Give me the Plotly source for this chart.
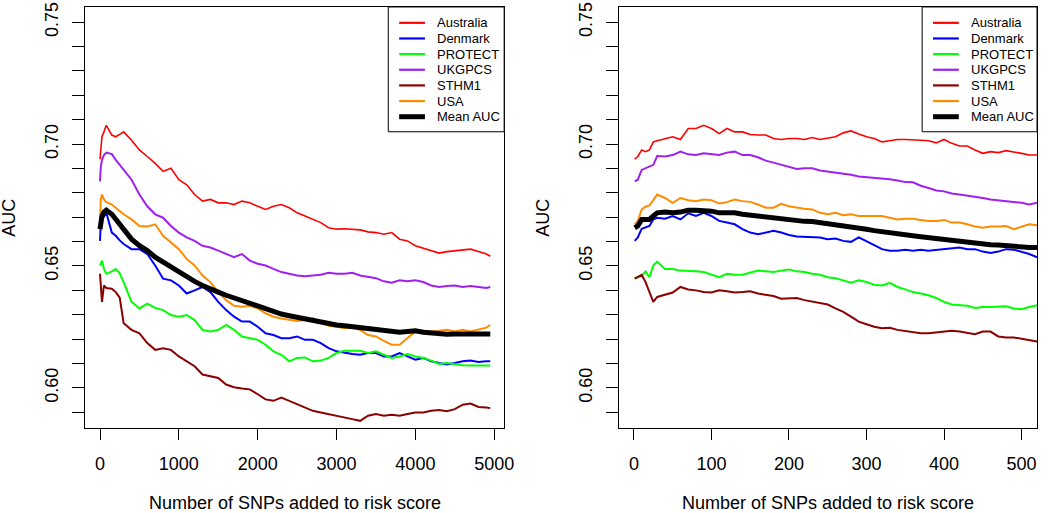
import plotly.graph_objects as go

LABELS = ["Australia", "Denmark", "PROTECT", "UKGPCS", "STHM1", "USA", "Mean AUC"]
COLORS = ["#FF0000", "#0000FF", "#00FF00", "#A020F0", "#8B0000", "#FF8C00", "#000000"]
WIDTHS = [1.6, 2.0, 2.0, 2.0, 2.0, 2.0, 5.0]

# ---------------- left panel (0 - 5000 SNPs) ----------------
L_X = [0, 10, 25, 50, 80, 150, 200, 250] + list(range(300, 5000, 100)) + [4950]

L_AUSTRALIA = [0.6938, 0.6989, 0.7030, 0.7050, 0.7077, 0.7037, 0.7030, 0.7040,
               0.7050, 0.7016, 0.6976, 0.6949, 0.6921, 0.6888, 0.6901, 0.6854, 0.6833, 0.6793,
               0.6766, 0.6773, 0.6759, 0.6759, 0.6752, 0.6766, 0.6759, 0.6745, 0.6732, 0.6745,
               0.6752, 0.6739, 0.6718, 0.6705, 0.6691, 0.6678, 0.6657, 0.6651, 0.6653, 0.6651,
               0.6648, 0.6640, 0.6637, 0.6630, 0.6637, 0.6610, 0.6603, 0.6583, 0.6572, 0.6563,
               0.6553, 0.6559, 0.6563, 0.6567, 0.6569, 0.6559, 0.6549,
               0.6540]
L_DENMARK = [0.6603, 0.6678, 0.6691, 0.6705, 0.6718, 0.6637, 0.6624, 0.6605,
             0.6590, 0.6569, 0.6569, 0.6549, 0.6502, 0.6448, 0.6441, 0.6420, 0.6387, 0.6400,
             0.6414, 0.6393, 0.6353, 0.6319, 0.6292, 0.6272, 0.6272, 0.6251, 0.6224, 0.6217,
             0.6204, 0.6204, 0.6211, 0.6197, 0.6197, 0.6184, 0.6163, 0.6150, 0.6143, 0.6139,
             0.6136, 0.6143, 0.6143, 0.6129, 0.6129, 0.6143, 0.6129, 0.6116, 0.6123, 0.6109,
             0.6102, 0.6096, 0.6102, 0.6109, 0.6112, 0.6106, 0.6109,
             0.6109]
L_PROTECT = [0.6502, 0.6515, 0.6522, 0.6488, 0.6468, 0.6478, 0.6488, 0.6470,
             0.6434, 0.6353, 0.6326, 0.6346, 0.6328, 0.6319, 0.6299, 0.6292, 0.6299, 0.6278,
             0.6238, 0.6231, 0.6238, 0.6258, 0.6238, 0.6211, 0.6204, 0.6197, 0.6177, 0.6150,
             0.6136, 0.6109, 0.6123, 0.6125, 0.6109, 0.6112, 0.6123, 0.6143, 0.6152, 0.6152,
             0.6152, 0.6143, 0.6150, 0.6136, 0.6123, 0.6129, 0.6139, 0.6129, 0.6123, 0.6112,
             0.6098, 0.6102, 0.6096, 0.6093, 0.6092, 0.6093, 0.6092,
             0.6092]
L_UKGPCS = [0.6847, 0.6908, 0.6935, 0.6955, 0.6965, 0.6959, 0.6935, 0.6915,
            0.6894, 0.6854, 0.6793, 0.6745, 0.6712, 0.6698, 0.6664, 0.6637, 0.6617, 0.6603,
            0.6583, 0.6576, 0.6563, 0.6549, 0.6536, 0.6549, 0.6522, 0.6509, 0.6502, 0.6488,
            0.6475, 0.6468, 0.6461, 0.6458, 0.6461, 0.6464, 0.6472, 0.6468, 0.6468, 0.6472,
            0.6461, 0.6454, 0.6450, 0.6437, 0.6431, 0.6441, 0.6437, 0.6441, 0.6434, 0.6420,
            0.6414, 0.6418, 0.6420, 0.6414, 0.6418, 0.6414, 0.6410,
            0.6414]
L_STHM1 = [0.6468, 0.6434, 0.6353, 0.6420, 0.6410, 0.6407, 0.6393, 0.6370,
           0.6265, 0.6238, 0.6224, 0.6184, 0.6156, 0.6163, 0.6156, 0.6129, 0.6109, 0.6089,
           0.6055, 0.6048, 0.6041, 0.6014, 0.6003, 0.5998, 0.5994, 0.5974, 0.5953, 0.5947,
           0.5960, 0.5947, 0.5933, 0.5922, 0.5906, 0.5899, 0.5893, 0.5886, 0.5879, 0.5872,
           0.5865, 0.5886, 0.5893, 0.5886, 0.5890, 0.5886, 0.5893, 0.5899, 0.5899, 0.5906,
           0.5909, 0.5904, 0.5913, 0.5931, 0.5936, 0.5922, 0.5920,
           0.5917]
L_USA = [0.6671, 0.6773, 0.6793, 0.6773, 0.6762, 0.6752, 0.6739, 0.6725,
         0.6712, 0.6691, 0.6664, 0.6662, 0.6671, 0.6624, 0.6597, 0.6569, 0.6529, 0.6502,
         0.6461, 0.6434, 0.6393, 0.6360, 0.6337, 0.6333, 0.6337, 0.6326, 0.6306, 0.6292,
         0.6285, 0.6278, 0.6274, 0.6278, 0.6285, 0.6269, 0.6255, 0.6251, 0.6245, 0.6247,
         0.6238, 0.6217, 0.6211, 0.6193, 0.6177, 0.6177, 0.6204, 0.6231, 0.6234, 0.6231,
         0.6234, 0.6238, 0.6231, 0.6238, 0.6231, 0.6238, 0.6247,
         0.6258]
L_MEAN = [0.6651, 0.6691, 0.6705, 0.6721, 0.6729, 0.6712, 0.6691, 0.6670,
          0.6651, 0.6610, 0.6583, 0.6563, 0.6536, 0.6515, 0.6495, 0.6475, 0.6454, 0.6437,
          0.6420, 0.6404, 0.6393, 0.6380, 0.6369, 0.6360, 0.6350, 0.6339, 0.6326, 0.6312,
          0.6303, 0.6296, 0.6289, 0.6282, 0.6276, 0.6269, 0.6262, 0.6258, 0.6255, 0.6251,
          0.6247, 0.6245, 0.6242, 0.6238, 0.6231, 0.6228, 0.6231, 0.6234, 0.6228, 0.6224,
          0.6220, 0.6220, 0.6221, 0.6221, 0.6223, 0.6223, 0.6221,
          0.6221]

# ---------------- right panel (0 - 520 SNPs) ----------------
R_X = [1, 5, 10, 15, 20, 25, 30] + list(range(40, 521, 10))

R_AUSTRALIA = [0.6938, 0.6949, 0.6976, 0.6969, 0.6976, 0.7009, 0.7014,
               0.7023, 0.7030, 0.7019, 0.7064, 0.7064, 0.7077, 0.7064, 0.7043, 0.7064, 0.7050,
               0.7050, 0.7039, 0.7037, 0.7037, 0.7023, 0.7019, 0.7023, 0.7023, 0.7019, 0.7027,
               0.7019, 0.7023, 0.7030, 0.7046, 0.7054, 0.7041, 0.7030, 0.7023, 0.7009, 0.7014,
               0.7019, 0.7019, 0.7016, 0.7016, 0.7014, 0.7005, 0.7019, 0.7003, 0.6992, 0.6992,
               0.6976, 0.6962, 0.6969, 0.6965, 0.6973, 0.6969, 0.6962, 0.6955, 0.6955]
R_DENMARK = [0.6603, 0.6617, 0.6653, 0.6657, 0.6664, 0.6691, 0.6698,
             0.6694, 0.6705, 0.6691, 0.6716, 0.6705, 0.6718, 0.6705, 0.6685, 0.6678, 0.6671,
             0.6651, 0.6637, 0.6630, 0.6637, 0.6644, 0.6637, 0.6627, 0.6621, 0.6620, 0.6617,
             0.6617, 0.6610, 0.6613, 0.6603, 0.6599, 0.6617, 0.6603, 0.6586, 0.6569, 0.6563,
             0.6563, 0.6567, 0.6563, 0.6567, 0.6563, 0.6567, 0.6569, 0.6572, 0.6576, 0.6569,
             0.6569, 0.6559, 0.6553, 0.6559, 0.6569, 0.6567, 0.6559, 0.6549, 0.6536]
R_PROTECT = [0.6450, 0.6454, 0.6458, 0.6478, 0.6454, 0.6502, 0.6518,
             0.6488, 0.6488, 0.6481, 0.6481, 0.6478, 0.6475, 0.6464, 0.6454, 0.6468, 0.6464,
             0.6464, 0.6472, 0.6481, 0.6478, 0.6475, 0.6481, 0.6486, 0.6478, 0.6475, 0.6468,
             0.6464, 0.6454, 0.6450, 0.6441, 0.6431, 0.6441, 0.6434, 0.6423, 0.6420, 0.6431,
             0.6414, 0.6404, 0.6393, 0.6387, 0.6380, 0.6369, 0.6353, 0.6342, 0.6339, 0.6337,
             0.6328, 0.6332, 0.6332, 0.6332, 0.6335, 0.6326, 0.6323, 0.6332, 0.6339]
R_UKGPCS = [0.6847, 0.6854, 0.6894, 0.6901, 0.6908, 0.6915, 0.6951,
            0.6949, 0.6955, 0.6969, 0.6958, 0.6955, 0.6962, 0.6958, 0.6955, 0.6965, 0.6969,
            0.6955, 0.6955, 0.6946, 0.6932, 0.6924, 0.6915, 0.6905, 0.6898, 0.6901, 0.6901,
            0.6892, 0.6888, 0.6881, 0.6878, 0.6874, 0.6867, 0.6865, 0.6861, 0.6858, 0.6856,
            0.6851, 0.6844, 0.6843, 0.6829, 0.6820, 0.6810, 0.6806, 0.6797, 0.6793, 0.6789,
            0.6783, 0.6779, 0.6773, 0.6770, 0.6766, 0.6763, 0.6759, 0.6752, 0.6759]
R_STHM1 = [0.6448, 0.6454, 0.6464, 0.6434, 0.6393, 0.6353, 0.6373,
           0.6383, 0.6391, 0.6414, 0.6404, 0.6400, 0.6393, 0.6391, 0.6400, 0.6396, 0.6391,
           0.6393, 0.6396, 0.6387, 0.6383, 0.6377, 0.6366, 0.6369, 0.6369, 0.6360, 0.6353,
           0.6346, 0.6342, 0.6326, 0.6312, 0.6292, 0.6272, 0.6261, 0.6251, 0.6245, 0.6247,
           0.6238, 0.6234, 0.6231, 0.6224, 0.6224, 0.6228, 0.6231, 0.6234, 0.6231, 0.6224,
           0.6220, 0.6231, 0.6231, 0.6211, 0.6207, 0.6207, 0.6201, 0.6197, 0.6190]
R_USA = [0.6671, 0.6685, 0.6732, 0.6743, 0.6748, 0.6773, 0.6793,
         0.6779, 0.6759, 0.6779, 0.6770, 0.6766, 0.6773, 0.6770, 0.6756, 0.6762, 0.6773,
         0.6766, 0.6763, 0.6752, 0.6739, 0.6739, 0.6755, 0.6745, 0.6739, 0.6735, 0.6732,
         0.6718, 0.6712, 0.6718, 0.6708, 0.6712, 0.6705, 0.6705, 0.6708, 0.6705, 0.6698,
         0.6691, 0.6694, 0.6694, 0.6689, 0.6685, 0.6685, 0.6689, 0.6678, 0.6678, 0.6671,
         0.6662, 0.6657, 0.6662, 0.6662, 0.6664, 0.6651, 0.6662, 0.6671, 0.6667]
R_MEAN = [0.6657, 0.6664, 0.6691, 0.6689, 0.6691, 0.6705, 0.6718,
          0.6721, 0.6718, 0.6721, 0.6729, 0.6729, 0.6729, 0.6725, 0.6718, 0.6718, 0.6718,
          0.6712, 0.6708, 0.6705, 0.6698, 0.6694, 0.6691, 0.6689, 0.6687, 0.6683, 0.6682,
          0.6678, 0.6671, 0.6668, 0.6667, 0.6660, 0.6655, 0.6651, 0.6645, 0.6640, 0.6634,
          0.6630, 0.6626, 0.6624, 0.6620, 0.6616, 0.6613, 0.6610, 0.6606, 0.6602, 0.6597,
          0.6592, 0.6590, 0.6587, 0.6586, 0.6583, 0.6580, 0.6576, 0.6576, 0.6576]

L_SERIES = [L_AUSTRALIA, L_DENMARK, L_PROTECT, L_UKGPCS, L_STHM1, L_USA, L_MEAN]
R_SERIES = [R_AUSTRALIA, R_DENMARK, R_PROTECT, R_UKGPCS, R_STHM1, R_USA, R_MEAN]

Y_TICKS = [0.59, 0.60, 0.61, 0.62, 0.63, 0.64, 0.65, 0.66, 0.67, 0.68, 0.69,
           0.70, 0.71, 0.72, 0.73, 0.74, 0.75]
Y_LABELS = ["", "0.60", "", "", "", "", "0.65", "", "", "", "",
            "0.70", "", "", "", "", "0.75"]
L_XTICKS = [0, 1000, 2000, 3000, 4000, 5000]
R_XTICKS = [0, 100, 200, 300, 400, 500]
X_TITLE = "Number of SNPs added to risk score"
Y_TITLE = "AUC"

FONT = "Liberation Sans, Arial, Helvetica, sans-serif"
W, H = 1050, 513

fig = go.Figure()
for xs, series, xa, ya in [(L_X, L_SERIES, "x", "y"), (R_X, R_SERIES, "x2", "y2")]:
    for name, col, lw, ys in zip(LABELS, COLORS, WIDTHS, series):
        fig.add_trace(go.Scatter(x=xs, y=ys, mode="lines", name=name,
                                 line=dict(color=col, width=lw),
                                 xaxis=xa, yaxis=ya, showlegend=False,
                                 hoverinfo="skip"))

def px(x):
    return x / W

def py(y):
    return 1 - y / H

panels = [
    # (x domain px, xrange, xticks, legend box px)
    ((86, 509), (-188, 5126), L_XTICKS, (392, 509)),
    ((625, 1047), (-19.2, 520), R_XTICKS, (931, 1047)),
]
y_dom = [py(427), py(2)]
y_range = [0.58362, 0.75623]

axis_common = dict(showgrid=False, zeroline=False, showline=True, linecolor="black",
                   linewidth=1, mirror=True, ticks="outside", tickcolor="black",
                   tickwidth=1, ticklabeloverflow="allow",
                   tickfont=dict(family=FONT, size=18, color="black"))

shapes = []
annotations = []
for i, ((x0, x1), xr, xt, (lx0, lx1)) in enumerate(panels):
    sfx = "" if i == 0 else str(i + 1)
    fig.layout["xaxis" + sfx] = dict(domain=[px(x0), px(x1)], range=list(xr),
                                     tickvals=xt, ticklen=11, ticklabelstandoff=9,
                                     anchor="y" + sfx, **axis_common)
    fig.layout["yaxis" + sfx] = dict(domain=y_dom, range=y_range, tickvals=Y_TICKS,
                                     ticktext=Y_LABELS, tickangle=-90, ticklen=12,
                                     ticklabelstandoff=7,
                                     anchor="x" + sfx, **axis_common)
    # axis titles
    cx = (x0 + x1) / 2
    annotations.append(dict(text=X_TITLE, x=px(cx), y=py(503), xref="paper", yref="paper",
                            xanchor="center", yanchor="middle", showarrow=False,
                            font=dict(family=FONT, size=18, color="black")))
    annotations.append(dict(text=Y_TITLE, x=px(x0 - 77), y=py(215), xref="paper", yref="paper",
                            xanchor="center", yanchor="middle", textangle=-90, showarrow=False,
                            font=dict(family=FONT, size=18, color="black")))
    # legend
    shapes.append(dict(type="rect", xref="paper", yref="paper", x0=px(lx0), x1=px(lx1),
                       y0=py(128), y1=py(2), line=dict(color="black", width=1),
                       fillcolor="white", layer="above"))
    for k, (name, col, lw) in enumerate(zip(LABELS, COLORS, WIDTHS)):
        yy = 18 + k * 15.8
        shapes.append(dict(type="line", xref="paper", yref="paper",
                           x0=px(lx0 + 11), x1=px(lx0 + 37), y0=py(yy), y1=py(yy),
                           line=dict(color=col, width=2.2 if lw < 3 else 5), layer="above"))
        annotations.append(dict(text=name, x=px(lx0 + 47), y=py(yy), xref="paper", yref="paper",
                                xanchor="left", yanchor="middle", showarrow=False,
                                font=dict(family=FONT, size=13, color="black")))

fig.update_layout(width=W, height=H, margin=dict(l=0, r=0, t=0, b=0),
                  plot_bgcolor="white", paper_bgcolor="white", showlegend=False,
                  font=dict(family=FONT, size=18, color="black"),
                  shapes=shapes, annotations=annotations)

fig.write_html("out.html", config={"displayModeBar": False},
               post_script="document.body.style.margin='0';document.body.style.overflow='hidden';")
